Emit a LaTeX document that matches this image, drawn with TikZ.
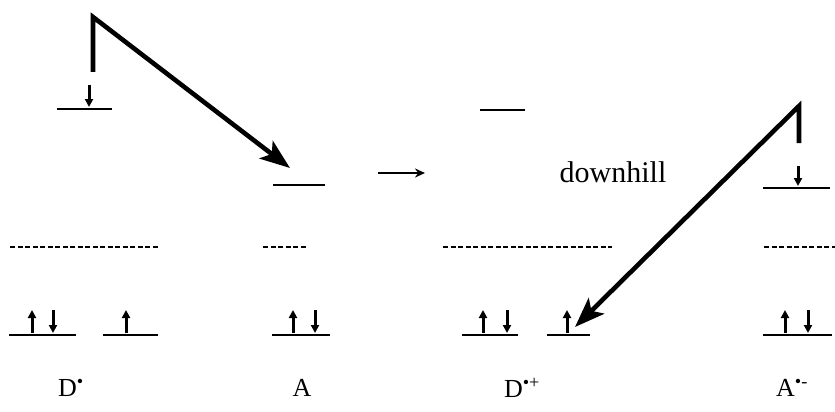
\documentclass[tikz,border=0pt]{standalone}
\usepackage{fontspec}
\setmainfont{Liberation Serif}
\usetikzlibrary{arrows.meta,calc}

\begin{document}
\begin{tikzpicture}[x=1pt,y=-1pt,
    level/.style={line width=2.6pt},
    dlevel/.style={line width=2.6pt,dash pattern=on 5pt off 2.5pt},
    spinup/.style={line width=3pt,-{Triangle[length=8pt,width=8pt]}},
    spindn/.style={line width=3pt,-{Triangle[length=8pt,width=8pt]}},
    jump/.style={line width=4.6pt,line join=miter,-{Stealth[length=30pt,width=22pt,inset=7pt]}},
    lbl/.style={font=\fontsize{26}{28}\selectfont}]
  \useasboundingbox (0,0) rectangle (835,412);
  % upper levels
  \coordinate (DupL) at (57,109);   \coordinate (DupR) at (112,109);
  \coordinate (AupL) at (273,185);  \coordinate (AupR) at (325,185);
  \coordinate (DpupL) at (480,110); \coordinate (DpupR) at (525,110);
  \coordinate (AmupL) at (763,188); \coordinate (AmupR) at (830,188);
  \draw[level] (DupL)--(DupR);
  \draw[level] (AupL)--(AupR);
  \draw[level] (DpupL)--(DpupR);
  \draw[level] (AmupL)--(AmupR);
  % dashed levels
  \draw[dlevel] (10,247)--(158,247);
  \draw[dlevel] (263,247)--(307,247);
  \draw[dlevel] (443,247)--(612,247);
  \draw[dlevel] (764,247)--(835,247);
  % lower levels
  \foreach \xa/\xb in {9/76,103/158,272/330,462/518,547/590,763/832}
    \draw[level] (\xa,335)--(\xb,335);
  % spins
  \foreach \x in {32,126,293,483,567,785}
    \draw[spinup] (\x,333)--(\x,310);
  \foreach \x in {53,315,507,808}
    \draw[spindn] (\x,310)--(\x,333);
  \draw[spindn] (89,85)--(89,107);
  \draw[spindn] (798,166)--(798,186);
  % transfers
  \coordinate (Dstart) at (93,72);
  \coordinate (Dcorner) at (93,17);
  \coordinate (Aend) at (290,168);
  \draw[jump] (Dstart)--(Dcorner)--(Aend);
  \coordinate (Astart) at (799,143);
  \coordinate (Acorner) at (799,106);
  \coordinate (Dend) at (575,327);
  \draw[jump] (Astart)--(Acorner)--(Dend);
  \coordinate (midL) at (378,173);
  \coordinate (midR) at (425,173);
  \draw[line width=2.4pt,-{Stealth[length=10pt,width=9pt]}] (midL)--(midR);
  \node[font=\fontsize{30}{32}\selectfont] (hill) at (613,172) {downhill};
  % labels
  \node[lbl] (Dlbl) at (71,388) {D\textsuperscript{\textbullet}};
  \node[lbl] (Albl) at (302,388) {A};
  \node[lbl] (Dplbl) at (522,388) {D\textsuperscript{\textbullet+}};
  \node[lbl] (Amlbl) at (792,388) {A\textsuperscript{\textbullet-}};
\end{tikzpicture}
\end{document}
